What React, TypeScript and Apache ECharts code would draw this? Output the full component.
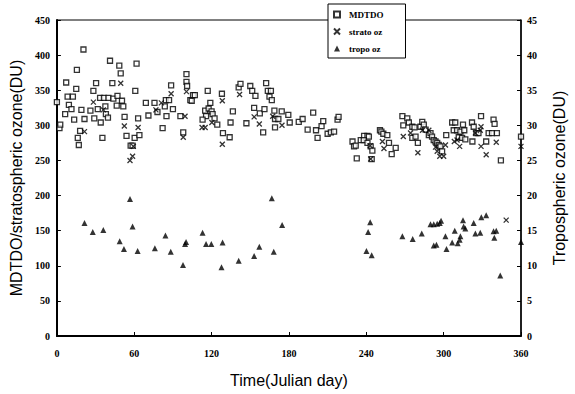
import React, { useEffect, useRef } from "react";
import * as echarts from "echarts";

// [Julian day, DU]
const mdtdo: number[][] = [
  [0, 333], [2, 296], [2.6, 301], [6.4, 316], [7.2, 361], [8.3, 341], [12.4, 341], [9.3, 329], [11.3, 323],
  [13.4, 308], [15.5, 379], [15, 352], [16.2, 282], [17, 272], [18, 292], [19, 322], [20.6, 408], [21.4, 309],
  [26, 321], [28.3, 349], [29, 310], [30.4, 360], [31.7, 323], [34, 304], [33.5, 339], [36.5, 339], [40, 339],
  [43.8, 338], [35.3, 282], [37.6, 327], [38, 316], [39.6, 311], [41.2, 392], [43, 360], [46.4, 328], [47, 342],
  [48.4, 385], [49.5, 374], [50.5, 335], [51.5, 327], [52.5, 312], [54, 285], [57.2, 271], [58.7, 271],
  [60.8, 349], [61.8, 388], [60.3, 282], [63, 310], [64, 286], [69, 332], [71, 314], [75.7, 332], [78, 319],
  [82, 296], [83.7, 327], [85, 313], [84.5, 336], [87, 336], [88.6, 357], [90, 323], [95.8, 313], [98, 290],
  [100.5, 373], [100.5, 362], [101, 356], [103.5, 336], [105.6, 343], [107, 343], [104.6, 335],
  [117, 349], [119, 332], [115, 321], [117.7, 324], [120, 320], [115.7, 313], [120.8, 316], [122.3, 310],
  [113, 308], [124.4, 301], [128.8, 289], [134, 283], [128, 345], [134.7, 304], [136.5, 320], [141, 354],
  [142.4, 359], [147, 303], [150, 356], [151.5, 349], [154, 342], [153, 325], [157.4, 317], [161, 323],
  [160, 290], [162.3, 360], [163.6, 349], [166, 349], [164.9, 341], [166.7, 336], [168.7, 321], [169.2, 309],
  [171.8, 309], [169.2, 297], [174.4, 320], [179.5, 315], [180.6, 304], [187.6, 305], [190.6, 309],
  [194.5, 294], [198.8, 318], [201, 293], [202.2, 282], [205.3, 299], [206.6, 306], [210, 288], [212.5, 290],
  [215, 291], [217.7, 308], [218.5, 312], [229.3, 277], [230.5, 270], [232.6, 253], [231.8, 271],
  [235.7, 279], [238.3, 285], [240.9, 285], [242, 284], [238, 279], [240.9, 275], [243.4, 270], [244.7, 264],
  [244.2, 252], [250.6, 293], [251.7, 291], [253.2, 288], [256.3, 286], [257.6, 275], [259.7, 259],
  [262.8, 268], [268, 313], [271.8, 310], [273, 304], [275.7, 298], [277.4, 297], [268.7, 300], [275.7, 282],
  [278.2, 284], [280, 275], [282, 298], [283.4, 305], [284.6, 301], [286, 294], [288.5, 286], [289.8, 289],
  [291, 284], [292.3, 279], [293.7, 277], [295, 275], [296.2, 272], [297.5, 270], [298.8, 263], [302, 286],
  [306.6, 304], [309, 304], [307.8, 293], [310.4, 293], [313, 291], [311.7, 283], [314.3, 282], [316.8, 280],
  [315, 301], [316, 293], [322, 304], [323.3, 298], [322.3, 277], [325.4, 289], [327, 289], [329, 313],
  [333, 277], [334.9, 289], [337.5, 289], [338.7, 308], [339.5, 302], [341.3, 289], [344.4, 250], [360, 284],
];

const strato: number[][] = [
  [21.4, 291], [28.3, 333], [36, 322], [49.5, 360], [52.3, 299], [56.7, 250], [58.7, 256], [59.3, 270],
  [63, 297], [76.8, 322], [81, 332], [88.6, 345], [99.4, 313], [98, 283], [100.5, 348], [112.6, 297],
  [115, 297], [120.2, 304], [128.3, 335], [128.3, 273], [141.7, 344], [153, 312], [157, 302], [167.4, 313],
  [174.6, 300], [243.4, 252], [243, 271], [252.5, 277], [253.7, 267], [268.7, 284], [274.3, 289], [280, 261],
  [283.6, 293], [288.5, 293], [293.7, 269], [295, 263], [297, 256], [300, 256], [301.4, 272], [308.3, 277],
  [310.4, 279], [312.4, 270], [324.6, 289], [328.4, 293], [329, 298], [329, 270], [333, 258], [340.8, 276],
  [348.5, 165], [360, 270],
];

const tropo: number[][] = [
  [21.4, 16.1], [27.8, 14.8], [36, 15.1], [48.7, 13.5], [52, 12.4], [56.7, 19.5], [58.7, 15.6], [62.6, 12.1],
  [76, 12.5], [84.2, 14.3], [88.3, 12.0], [97.8, 10.1], [99.4, 13.1], [100.2, 13.4], [113, 14.7],
  [115.7, 13.1], [119.8, 13.1], [127.7, 9.8], [128.5, 13.3], [141, 10.7], [153, 11.4], [157, 12.7],
  [166.7, 19.6], [168.2, 12.0], [174.7, 15.8], [240.1, 12.1], [241.4, 14.8], [243, 16.2], [244.2, 11.5],
  [268, 14.2], [276, 13.8], [283, 14.6], [289.8, 15.9], [292.3, 15.9], [295, 16.0], [297, 16.1], [298, 16.4],
  [292.3, 12.9], [294.4, 13.0], [301.4, 14.2], [302.2, 12.4], [306.6, 13.3], [308.6, 15.0], [310.9, 13.2],
  [312.4, 13.7], [313, 14.2], [315, 16.5], [315.5, 15.6], [316.8, 15.3], [323.3, 16.1], [324.6, 14.6],
  [328.4, 14.7], [329.2, 16.9], [333, 17.2], [338.7, 14.9], [340.8, 15.0], [339.3, 14.0], [343.9, 8.6],
  [360, 13.4],
];

const tickFont = { fontFamily: "Liberation Serif", fontWeight: "bold" as const, fontSize: 10, color: "#000" };
const nameFont = { fontFamily: "Liberation Sans", fontSize: 16, color: "#000" };

export default function App() {
  const ref = useRef<HTMLDivElement>(null);
  useEffect(() => {
    if (!ref.current) return;
    const chart = echarts.init(ref.current, undefined, { renderer: "svg" });
    chart.setOption({
      animation: false,
      backgroundColor: "#fff",
      grid: { left: 55, right: 54, top: 20, bottom: 58, show: true, borderColor: "#000", borderWidth: 1 },
      legend: {
        orient: "vertical",
        left: 328,
        top: 4,
        padding: [6, 22, 5, 5],
        itemGap: 8,
        itemWidth: 6,
        itemHeight: 6,
        borderColor: "#000",
        borderWidth: 1,
        backgroundColor: "#fff",
        textStyle: { fontFamily: "Liberation Serif", fontWeight: "bold", fontSize: 9, color: "#000", padding: [0, 0, 0, 4] },
        data: ["MDTDO", "strato oz", "tropo oz"],
      },
      xAxis: {
        type: "value",
        min: 0,
        max: 360,
        interval: 60,
        name: "Time(Julian day)",
        nameLocation: "middle",
        nameGap: 36,
        nameTextStyle: nameFont,
        axisLine: { lineStyle: { color: "#000", width: 2 } },
        axisTick: { inside: true, length: 4, lineStyle: { color: "#000" } },
        axisLabel: { ...tickFont, margin: 12 },
        splitLine: { show: false },
      },
      yAxis: [
        {
          type: "value",
          min: 0,
          max: 450,
          interval: 50,
          position: "left",
          name: "MDTDO/stratospheric ozone(DU)",
          nameLocation: "middle",
          nameGap: 28,
          nameTextStyle: nameFont,
          axisLine: { show: true, lineStyle: { color: "#000", width: 2 } },
          axisTick: { show: true, inside: true, length: 4, lineStyle: { color: "#000" } },
          axisLabel: { ...tickFont, margin: 7 },
          splitLine: { show: false },
        },
        {
          type: "value",
          min: 0,
          max: 45,
          interval: 5,
          position: "right",
          name: "Tropospheric ozone(DU)",
          nameLocation: "middle",
          nameGap: 30,
          nameTextStyle: nameFont,
          axisLine: { show: true, lineStyle: { color: "#000", width: 1.5 } },
          axisTick: { show: true, inside: true, length: 4, lineStyle: { color: "#000" } },
          axisLabel: { ...tickFont, margin: 6 },
          splitLine: { show: false },
        },
      ],
      series: [
        {
          name: "MDTDO",
          type: "scatter",
          yAxisIndex: 0,
          symbol: "rect",
          symbolSize: 5,
          itemStyle: { color: "#fff", borderColor: "#000", borderWidth: 1.3 },
          data: mdtdo,
        },
        {
          name: "strato oz",
          type: "scatter",
          yAxisIndex: 0,
          symbol: "path://M0,0L10,10M10,0L0,10",
          symbolSize: 5,
          itemStyle: { color: "#000", borderColor: "#000", borderWidth: 1.3 },
          data: strato,
        },
        {
          name: "tropo oz",
          type: "scatter",
          yAxisIndex: 1,
          symbol: "triangle",
          symbolSize: 6,
          itemStyle: { color: "#000" },
          data: tropo,
        },
      ],
    });
    return () => chart.dispose();
  }, []);
  return <div ref={ref} style={{ width: 575, height: 394, position: "absolute", left: 0, top: 0 }} />;
}
